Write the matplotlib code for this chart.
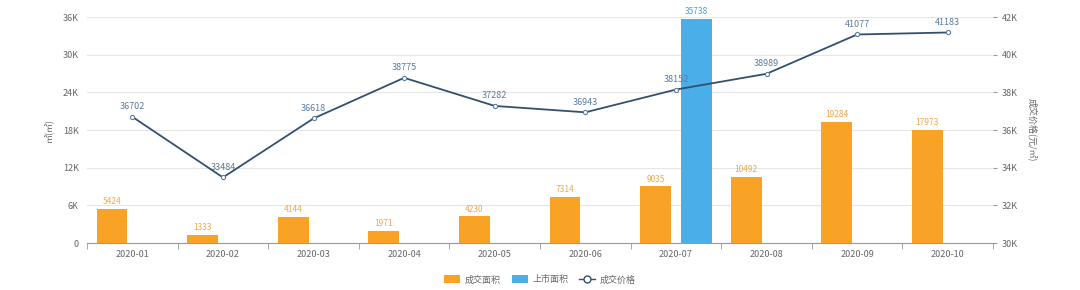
import numpy as np
import matplotlib
matplotlib.use('Agg')
import matplotlib.pyplot as plt
from matplotlib.lines import Line2D
from matplotlib.patches import Patch

plt.rcParams['font.family'] = ['Noto Sans CJK SC', 'DejaVu Sans']
plt.rcParams['axes.unicode_minus'] = False

# data
months = ['2020-01', '2020-02', '2020-03', '2020-04', '2020-05',
          '2020-06', '2020-07', '2020-08', '2020-09', '2020-10']
deal_area = [5424, 1333, 4144, 1971, 4230, 7314, 9035, 10492, 19284, 17973]
listed_area = [0, 0, 0, 0, 0, 0, 35738, 0, 0, 0]
deal_price = [36702, 33484, 36618, 38775, 37282, 36943, 38152, 38989, 41077, 41183]

ORANGE = '#F8A325'
BLUE = '#4AAEE9'
LINE = '#34506C'
GRAY = '#666666'

fig = plt.figure(figsize=(10.8, 2.9), dpi=100)
ax = fig.add_axes([0.0806, 0.162, 0.8389, 0.779])
ax2 = ax.twinx()

x = np.arange(len(months))
w = 0.34
off = 0.225

ax.bar(x - off, deal_area, w, color=ORANGE, zorder=3)
ax.bar(x + off, listed_area, w, color=BLUE, zorder=3)

for xi, v in zip(x, deal_area):
    if v:
        ax.annotate(str(v), (xi - off, v), xytext=(0, 2), textcoords='offset points',
                    ha='center', va='bottom', fontsize=6, color='#F0A84A')
for xi, v in zip(x, listed_area):
    if v:
        ax.annotate(str(v), (xi + off, v), xytext=(0, 2), textcoords='offset points',
                    ha='center', va='bottom', fontsize=6, color='#4A9FD8')

ax.set_xlim(-0.5, len(months) - 0.5)
ax.set_ylim(0, 36000)
ax.set_yticks(np.arange(0, 36001, 6000))
ax.set_yticklabels(['0'] + ['%dK' % (v // 1000) for v in range(6000, 36001, 6000)])
ax.grid(axis='y', color='#E6E6E6', lw=0.8, zorder=0)
ax.set_axisbelow(True)

ax.set_xticks(x)
ax.set_xticklabels(months)
ax.set_xticks(np.arange(-0.5, len(months), 1), minor=True)
ax.tick_params(axis='x', which='major', length=0, pad=5, labelsize=6.5, labelcolor=GRAY)
ax.tick_params(axis='x', which='minor', length=4, direction='out', color='#999999')
ax.tick_params(axis='y', length=0, pad=6, labelsize=6.5, labelcolor=GRAY)

for s in ['top', 'left', 'right']:
    ax.spines[s].set_visible(False)
    ax2.spines[s].set_visible(False)
ax.spines['bottom'].set_color('#999999')
ax2.spines['bottom'].set_visible(False)

ax.set_ylabel('㎡(㎡)', fontsize=6.5, color=GRAY, labelpad=6)

ax2.plot(x, deal_price, color=LINE, lw=1.3, marker='o', ms=3,
         mfc='white', mec='#5A7FA0', mew=0.8, zorder=4)
for xi, v in zip(x, deal_price):
    ax2.annotate(str(v), (xi, v), xytext=(0, 4), textcoords='offset points',
                 ha='center', va='bottom', fontsize=6.5, color='#5C7C9C')
ax2.set_ylim(30000, 42000)
ax2.set_yticks(np.arange(30000, 42001, 2000))
ax2.set_yticklabels(['%dK' % (v // 1000) for v in range(30000, 42001, 2000)])
ax2.tick_params(axis='y', length=3, pad=3, labelsize=6.5, labelcolor=GRAY, color='#999999')
ax2.set_ylabel('成交价格(元/㎡)', fontsize=6.5, color=GRAY, rotation=-90, labelpad=14)

handles = [Patch(facecolor=ORANGE, edgecolor='none'),
           Patch(facecolor=BLUE, edgecolor='none'),
           Line2D([0], [0], color=LINE, lw=1, marker='o', ms=5, mfc='white', mec=LINE)]
fig.legend(handles, ['成交面积', '上市面积', '成交价格'], loc='center',
           bbox_to_anchor=(0.5, 0.035), ncol=3, frameon=False, fontsize=6.5,
           handlelength=1.8, handleheight=1.0, columnspacing=1.2, handletextpad=0.5,
           labelcolor=GRAY)

fig.savefig('out.png', dpi=100)
